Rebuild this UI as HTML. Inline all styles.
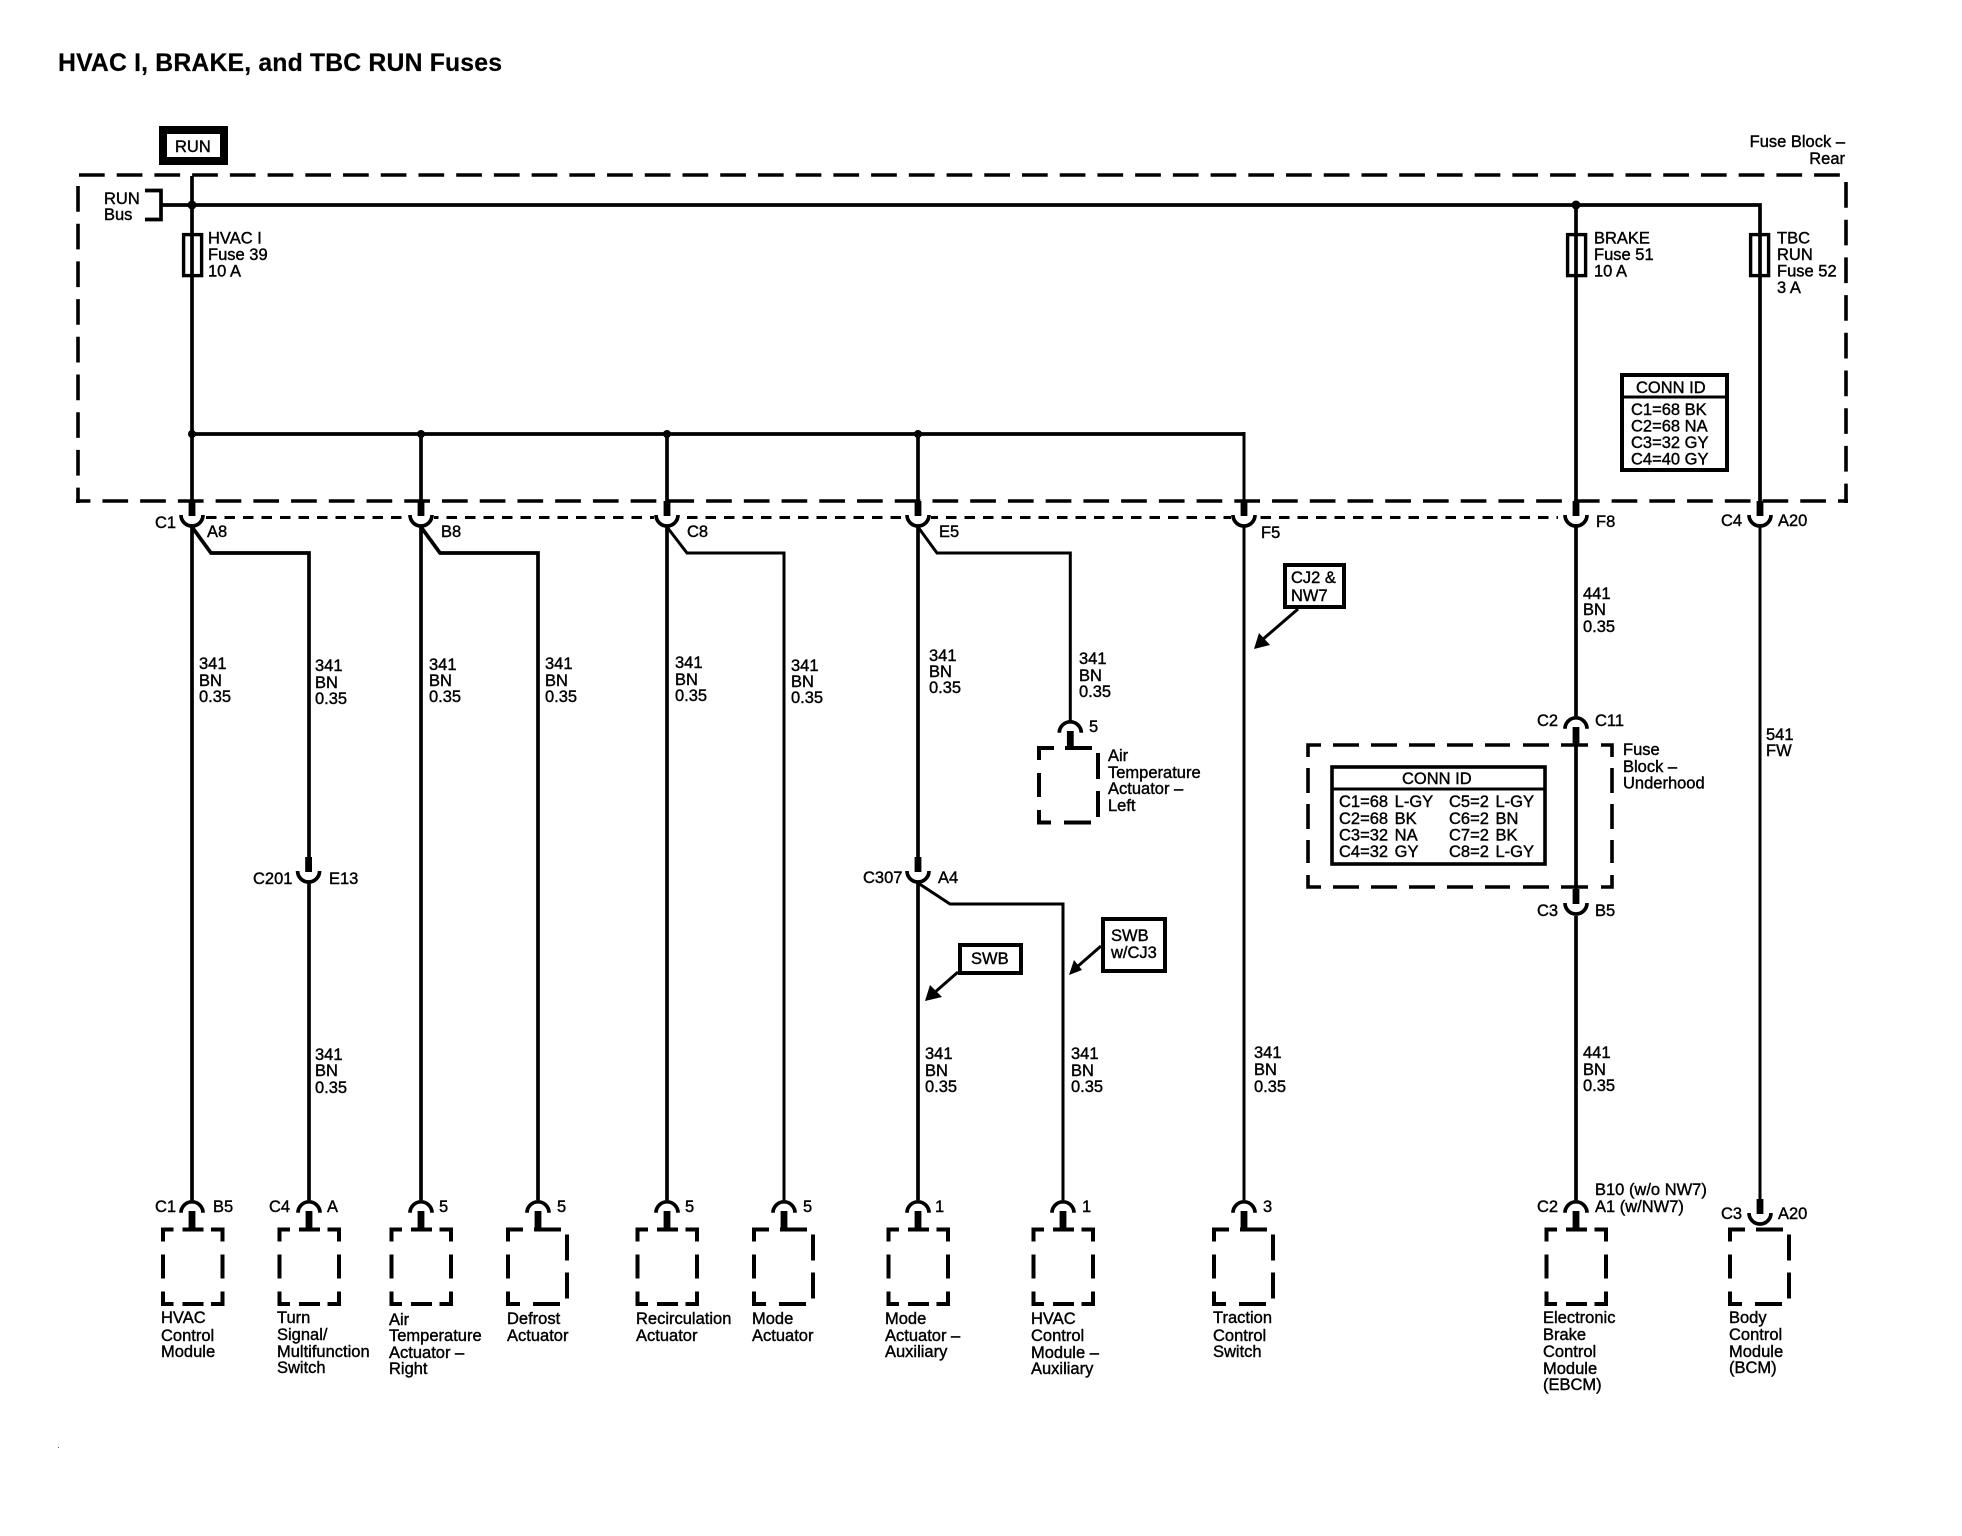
<!DOCTYPE html>
<html>
<head>
<meta charset="utf-8">
<style>
html,body{margin:0;padding:0;background:#fff;}
svg{display:block;}
text{font-family:"Liberation Sans",sans-serif;font-size:16.5px;fill:#000;stroke:#000;stroke-width:.4;}
.w{fill:none;stroke:#000;stroke-width:3.7;}
.t{fill:none;stroke:#000;stroke-width:3;}
.d{fill:none;stroke:#000;stroke-width:3.6;}
</style>
</head>
<body>
<svg width="1962" height="1536" viewBox="0 0 1962 1536" xmlns="http://www.w3.org/2000/svg">
<defs>
<g id="n"><path d="M-11 12.8A11 11 0 0 1 11 12.8" fill="none" stroke="#000" stroke-width="3.7"/><rect x="-3.4" y="11" width="6.8" height="19"/></g>
<g id="u"><rect x="-3.4" y="0" width="6.8" height="15"/><path d="M-11 14A11 11 0 0 0 11 14" fill="none" stroke="#000" stroke-width="3.7"/></g>
<path id="a" fill="none" stroke="#000" stroke-width="4" d="M-19 0H-29.5V12M-29.5 25V49M-29.5 62V74.5H-19M-10 0H11M-10 74.5H11M18.5 0H30V12M30 25V49M30 62V74.5H18.5"/>
<path id="b" fill="none" stroke="#000" stroke-width="4" d="M-30 12V0H-15M-4 0H23M29 5V31M29 43V69M-30 25V49M-30 62V74.5H-18M-5 74.5H22"/>
</defs>
<rect width="1962" height="1536" fill="#fff"/>

<text x="58" y="71" textLength="444" style="font-size:24.8px;font-weight:bold;stroke-width:.2">HVAC I, BRAKE, and TBC RUN Fuses</text>

<!-- outer dashed block -->
<path class="d" d="M79 175H1840" stroke-dasharray="25.7 12.02"/>
<path class="d" d="M1846 182V503" stroke-dasharray="25.7 12"/>
<path class="d" d="M78 186V503" stroke-dasharray="25.7 12"/>
<path class="d" d="M1848 501H76" stroke-dasharray="25.7 12.03" stroke-dashoffset="15.7"/>

<!-- dotted -->
<path d="M206 517.5H1558" fill="none" stroke="#000" stroke-width="3" stroke-dasharray="10.5 8"/>
<g fill="#fff"><rect x="408" y="514" width="26" height="7"/><rect x="654" y="514" width="26" height="7"/><rect x="905" y="514" width="26" height="7"/><rect x="1231" y="514" width="26" height="7"/></g>

<!-- RUN -->
<rect x="163" y="130" width="61" height="31" fill="#fff" stroke="#000" stroke-width="8"/>
<text x="175" y="152">RUN</text>
<text x="104" y="204">RUN</text>
<text x="104" y="220">Bus</text>
<path class="w" d="M145 190.5H161V219.5H145"/>

<!-- buses -->
<path class="w" d="M161 205H1760V501"/>
<path class="w" d="M192 176V501"/>
<path class="w" d="M192 434H1244"/>
<path class="t" d="M1244 432V501"/>
<path class="w" d="M421 434V501"/>
<path class="w" d="M667 434V501"/>
<path class="w" d="M918 434V501"/>
<path class="w" d="M1576 205V501"/>
<path class="t" d="M1760 205V501"/>
<circle cx="192" cy="205" r="4.5"/><circle cx="1576" cy="205" r="4.5"/>
<circle cx="192" cy="434" r="4"/><circle cx="421" cy="434" r="4"/><circle cx="667" cy="434" r="4"/><circle cx="918" cy="434" r="4"/>

<!-- fuses -->
<rect x="183.6" y="234.6" width="18" height="41" fill="none" stroke="#000" stroke-width="3.4"/>
<rect x="1567.6" y="234.6" width="18" height="41" fill="none" stroke="#000" stroke-width="3.4"/>
<rect x="1750.6" y="234.6" width="18" height="41" fill="none" stroke="#000" stroke-width="3.4"/>
<text x="208" y="243.5">HVAC I</text><text x="208" y="260">Fuse 39</text><text x="208" y="276.5">10 A</text>
<text x="1594" y="243.5">BRAKE</text><text x="1594" y="260">Fuse 51</text><text x="1594" y="276.5">10 A</text>
<text x="1777" y="243.5">TBC</text><text x="1777" y="260">RUN</text><text x="1777" y="276.5">Fuse 52</text><text x="1777" y="293">3 A</text>
<text x="1845" y="147" text-anchor="end">Fuse Block –</text>
<text x="1845" y="164" text-anchor="end">Rear</text>

<!-- rear conn id -->
<rect x="1622" y="375" width="105" height="95" fill="#fff" stroke="#000" stroke-width="4"/>
<path d="M1622 397H1727" stroke="#000" stroke-width="3"/>
<text x="1636" y="393">CONN ID</text>
<text x="1631" y="415">C1=68 BK</text><text x="1631" y="431.5">C2=68 NA</text><text x="1631" y="448">C3=32 GY</text><text x="1631" y="464.5">C4=40 GY</text>

<!-- wires below block -->
<path class="w" d="M192 526V1200"/>
<path class="w" d="M192 527L211 553H309V857"/>
<path class="w" d="M309 883V1200"/>
<path class="w" d="M421 526V1200"/>
<path class="w" d="M421 527L440 553H538V1200"/>
<path class="w" d="M667 526V1200"/>
<path class="t" d="M667 527L687 553H784V1200"/>
<path class="w" d="M918 526V857"/>
<path class="w" d="M918 883V1200"/>
<path class="t" d="M918 527L937 553H1070.3V721"/>
<path class="t" d="M918 883L950 904H1063V1200"/>
<path class="t" d="M1244 526V1200"/>
<path class="w" d="M1576 527V716"/>
<path class="w" d="M1576 740V890"/>
<path class="w" d="M1576 916V1200"/>
<path class="t" d="M1760 527V1200"/>

<!-- connectors -->
<use href="#u" x="192" y="501"/><use href="#u" x="421" y="501"/><use href="#u" x="667" y="501"/><use href="#u" x="918" y="501"/><use href="#u" x="1244" y="501"/><use href="#u" x="1576" y="501"/><use href="#u" x="1760" y="501"/>
<use href="#u" x="308.6" y="857"/><use href="#u" x="918" y="857"/>
<use href="#u" x="1576" y="889"/><use href="#n" x="1576" y="716"/>
<use href="#u" x="1760" y="1199"/>
<use href="#n" x="1070.3" y="720"/>
<use href="#n" x="192" y="1200"/><use href="#n" x="309" y="1200"/><use href="#n" x="421" y="1200"/><use href="#n" x="538" y="1200"/><use href="#n" x="667" y="1200"/><use href="#n" x="784" y="1200"/><use href="#n" x="918" y="1200"/><use href="#n" x="1063" y="1200"/><use href="#n" x="1244" y="1200"/><use href="#n" x="1576" y="1200"/>

<!-- boxes -->
<use href="#a" x="192.5" y="1229.5"/><use href="#a" x="309" y="1229.5"/><use href="#a" x="421" y="1229.5"/>
<use href="#b" x="538" y="1229.5"/>
<use href="#a" x="667" y="1229.5"/>
<use href="#b" x="784" y="1229.5"/>
<use href="#a" x="918" y="1229.5"/><use href="#a" x="1063" y="1229.5"/>
<use href="#b" x="1244" y="1229.5"/>
<use href="#a" x="1576" y="1229.5"/>
<use href="#b" x="1760" y="1229.5"/>
<use href="#b" x="1069" y="748"/>

<!-- connector labels -->
<text x="155" y="528">C1</text><text x="207" y="537">A8</text><text x="441" y="537">B8</text><text x="687" y="537">C8</text><text x="939" y="537">E5</text><text x="1261" y="538">F5</text><text x="1596" y="527">F8</text><text x="1721" y="526">C4</text><text x="1778" y="526">A20</text>
<text x="253" y="884">C201</text><text x="329" y="884">E13</text>
<text x="863" y="883">C307</text><text x="938" y="883">A4</text>
<text x="1089" y="732">5</text>
<text x="1537" y="726">C2</text><text x="1595" y="726">C11</text>
<text x="1537" y="916">C3</text><text x="1595" y="916">B5</text>
<text x="155" y="1212">C1</text><text x="213" y="1212">B5</text><text x="269" y="1212">C4</text><text x="327" y="1212">A</text>
<text x="439" y="1212">5</text><text x="557" y="1212">5</text><text x="685" y="1212">5</text><text x="803" y="1212">5</text><text x="935" y="1212">1</text><text x="1082" y="1212">1</text><text x="1263" y="1212">3</text>
<text x="1537" y="1212">C2</text><text x="1595" y="1195">B10 (w/o NW7)</text><text x="1595" y="1212">A1 (w/NW7)</text>
<text x="1721" y="1219">C3</text><text x="1778" y="1219">A20</text>

<!-- wire labels -->
<text x="199" y="669">341</text><text x="199" y="686">BN</text><text x="199" y="702">0.35</text>
<text x="315" y="671">341</text><text x="315" y="688">BN</text><text x="315" y="704">0.35</text>
<text x="429" y="670">341</text><text x="429" y="686">BN</text><text x="429" y="702">0.35</text>
<text x="545" y="669">341</text><text x="545" y="686">BN</text><text x="545" y="702">0.35</text>
<text x="675" y="668">341</text><text x="675" y="685">BN</text><text x="675" y="701">0.35</text>
<text x="791" y="671">341</text><text x="791" y="687">BN</text><text x="791" y="703">0.35</text>
<text x="929" y="661">341</text><text x="929" y="677">BN</text><text x="929" y="693">0.35</text>
<text x="1079" y="664">341</text><text x="1079" y="681">BN</text><text x="1079" y="697">0.35</text>
<text x="1583" y="599">441</text><text x="1583" y="615">BN</text><text x="1583" y="632">0.35</text>
<text x="1766" y="740">541</text><text x="1766" y="756">FW</text>
<text x="315" y="1060">341</text><text x="315" y="1076">BN</text><text x="315" y="1093">0.35</text>
<text x="925" y="1059">341</text><text x="925" y="1076">BN</text><text x="925" y="1092">0.35</text>
<text x="1071" y="1059">341</text><text x="1071" y="1076">BN</text><text x="1071" y="1092">0.35</text>
<text x="1254" y="1058">341</text><text x="1254" y="1075">BN</text><text x="1254" y="1092">0.35</text>
<text x="1583" y="1058">441</text><text x="1583" y="1075">BN</text><text x="1583" y="1091">0.35</text>

<!-- component labels -->
<text x="161" y="1323">HVAC</text><text x="161" y="1341">Control</text><text x="161" y="1357">Module</text>
<text x="277" y="1323">Turn</text><text x="277" y="1340">Signal/</text><text x="277" y="1357">Multifunction</text><text x="277" y="1373">Switch</text>
<text x="389" y="1325">Air</text><text x="389" y="1341">Temperature</text><text x="389" y="1358">Actuator –</text><text x="389" y="1374">Right</text>
<text x="507" y="1324">Defrost</text><text x="507" y="1341">Actuator</text>
<text x="636" y="1324">Recirculation</text><text x="636" y="1341">Actuator</text>
<text x="752" y="1324">Mode</text><text x="752" y="1341">Actuator</text>
<text x="885" y="1324">Mode</text><text x="885" y="1341">Actuator –</text><text x="885" y="1357">Auxiliary</text>
<text x="1031" y="1324">HVAC</text><text x="1031" y="1341">Control</text><text x="1031" y="1358">Module –</text><text x="1031" y="1374">Auxiliary</text>
<text x="1213" y="1323">Traction</text><text x="1213" y="1341">Control</text><text x="1213" y="1357">Switch</text>
<text x="1543" y="1323">Electronic</text><text x="1543" y="1340">Brake</text><text x="1543" y="1357">Control</text><text x="1543" y="1374">Module</text><text x="1543" y="1390">(EBCM)</text>
<text x="1729" y="1323">Body</text><text x="1729" y="1340">Control</text><text x="1729" y="1357">Module</text><text x="1729" y="1373">(BCM)</text>
<text x="1108" y="761">Air</text><text x="1108" y="778">Temperature</text><text x="1108" y="794">Actuator –</text><text x="1108" y="811">Left</text>

<!-- underhood dashed block -->
<path class="d" d="M1308 757V745H1321M1333 745H1359M1371 745H1397M1409 745H1435M1447 745H1473M1485 745H1510M1523 745H1549M1561 745H1588M1601 745H1612V757M1308 768V793M1308 804V829M1308 840V863M1308 875V887H1321M1333 887H1359M1371 887H1397M1409 887H1435M1447 887H1473M1485 887H1510M1523 887H1549M1561 887H1588M1601 887H1612V875M1612 768V793M1612 804V829M1612 840V863"/>
<rect x="1332" y="767" width="213" height="97" fill="#fff" stroke="#000" stroke-width="3.6"/>
<path d="M1332 789H1545" stroke="#000" stroke-width="3"/>
<text x="1402" y="784">CONN ID</text>
<text x="1339" y="807" word-spacing="2">C1=68 L-GY</text><text x="1339" y="824" word-spacing="2">C2=68 BK</text><text x="1339" y="840.5" word-spacing="2">C3=32 NA</text><text x="1339" y="857" word-spacing="2">C4=32 GY</text>
<text x="1449" y="807" word-spacing="2">C5=2 L-GY</text><text x="1449" y="824" word-spacing="2">C6=2 BN</text><text x="1449" y="840.5" word-spacing="2">C7=2 BK</text><text x="1449" y="857" word-spacing="2">C8=2 L-GY</text>
<text x="1623" y="755">Fuse</text><text x="1623" y="772">Block –</text><text x="1623" y="788.5">Underhood</text>

<!-- annotation boxes -->
<rect x="1285" y="565" width="59" height="42" fill="#fff" stroke="#000" stroke-width="4"/>
<text x="1291" y="583">CJ2 &amp;</text><text x="1291" y="601">NW7</text>
<path d="M1298 609L1262 640" stroke="#000" stroke-width="3"/>
<path d="M1254 649L1259 633L1270 645Z"/>

<rect x="960" y="945" width="61" height="28" fill="#fff" stroke="#000" stroke-width="4"/>
<text x="971" y="964">SWB</text>
<path d="M958 972L934 993" stroke="#000" stroke-width="3"/>
<path d="M925 1001L930 985L942 997Z"/>

<rect x="1103" y="919" width="62" height="52" fill="#fff" stroke="#000" stroke-width="4"/>
<text x="1111" y="941">SWB</text><text x="1111" y="958">w/CJ3</text>
<path d="M1101 946L1077 967" stroke="#000" stroke-width="3"/>
<path d="M1069 975L1074 960L1082 970Z"/>

<rect x="58" y="1447" width="1" height="1" fill="#555"/>
</svg>
</body>
</html>
